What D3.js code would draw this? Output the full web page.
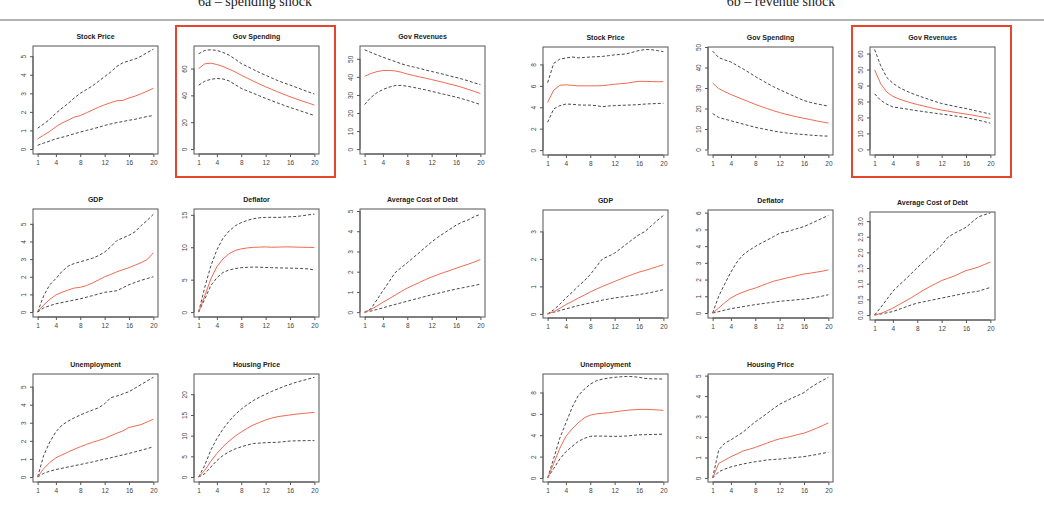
<!DOCTYPE html>
<html><head><meta charset="utf-8">
<script src="https://cdn.jsdelivr.net/npm/d3@7"></script>
<style>body{margin:0;background:#fff}svg{display:block}</style>
</head><body>
<svg id="c" width="1044" height="508"></svg>
<script>
// ---------- data ----------
const horizons = d3.range(1, 21);
const xTickLabels = [1, 4, 8, 12, 16, 20];
const groupTitles = ["6a \u2013 spending shock", "6b \u2013 revenue shock"];
const panelTitles = ["Stock Price","Gov Spending","Gov Revenues","GDP","Deflator","Average Cost of Debt","Unemployment","Housing Price"];

// 6a spending shock
const a_stock_lo  = [0.2,0.32,0.43,0.55,0.63,0.72,0.82,0.91,1.0,1.08,1.17,1.27,1.35,1.42,1.48,1.55,1.6,1.68,1.75,1.8];
const a_stock_mid = [0.54,0.75,0.95,1.2,1.4,1.55,1.72,1.8,1.95,2.1,2.25,2.38,2.5,2.6,2.62,2.75,2.85,2.98,3.12,3.27];
const a_stock_hi  = [1.12,1.35,1.6,1.93,2.2,2.45,2.75,3.0,3.2,3.4,3.65,3.9,4.15,4.45,4.65,4.75,4.85,5.0,5.2,5.38];
const a_gsp_lo  = [47.6,50.5,52,52.6,52.2,50.8,48,45.2,43.3,41.5,39.6,37.8,36,34.3,32.6,31,29.5,28,26.5,25];
const a_gsp_mid = [60,63.5,64,63,61.5,59.5,57.5,55,52.8,50.6,48.4,46.4,44.5,42.6,40.8,39,37.4,35.8,34.3,32.8];
const a_gsp_hi  = [71,73.5,74,73.5,72,70,67,63.7,61.5,59.2,57,55,53,51,49.3,47.7,46,44.3,42.6,41];
const a_grev_lo  = [24.7,28.5,31.2,33,34.3,35.2,35.3,34.8,34.2,33.5,32.8,32,31.2,30.4,29.6,28.8,27.9,26.9,25.8,24.7];
const a_grev_mid = [40.3,41.8,42.9,43.5,43.6,43.3,42.6,41.6,40.8,40,39.3,38.5,37.7,36.9,36,35.2,34.2,33.1,32,30.8];
const a_grev_hi  = [55,53.6,52.2,50.9,49.7,48.5,47.3,46.3,45.5,44.7,43.8,43,42.2,41.4,40.5,39.7,38.8,37.8,36.7,35.7];
const a_gdp_lo  = [0,0.24,0.36,0.47,0.54,0.61,0.68,0.75,0.84,0.93,1.02,1.12,1.16,1.21,1.38,1.55,1.68,1.8,1.9,2.0];
const a_gdp_mid = [0.04,0.4,0.72,0.97,1.12,1.25,1.36,1.4,1.5,1.65,1.82,2.0,2.13,2.28,2.4,2.52,2.66,2.8,2.98,3.36];
const a_gdp_hi  = [0,0.93,1.55,1.9,2.3,2.6,2.75,2.85,2.95,3.05,3.2,3.4,3.7,4.05,4.2,4.35,4.55,4.9,5.2,5.54];
const a_defl_lo  = [0,2.0,4.1,5.3,6.1,6.5,6.7,6.85,6.9,6.95,6.92,6.88,6.85,6.82,6.8,6.78,6.75,6.72,6.65,6.5];
const a_defl_mid = [0,2.5,5.1,7.0,8.2,9.0,9.5,9.75,9.9,9.98,10.02,10.05,10.0,10.02,10.05,10.05,10.02,10.0,9.98,9.97];
const a_defl_hi  = [0,3.8,7.1,9.6,11.4,12.5,13.3,13.8,14.15,14.4,14.55,14.6,14.62,14.6,14.65,14.7,14.75,14.85,15.0,15.1];
const a_debt_lo  = [0,0.05,0.13,0.21,0.3,0.38,0.46,0.54,0.62,0.7,0.78,0.86,0.93,1.0,1.07,1.14,1.2,1.26,1.32,1.38];
const a_debt_mid = [0,0.12,0.3,0.49,0.66,0.84,1.02,1.19,1.33,1.47,1.61,1.74,1.85,1.96,2.06,2.17,2.27,2.37,2.48,2.6];
const a_debt_hi  = [0,0.16,0.6,1.06,1.5,1.95,2.2,2.44,2.7,2.95,3.22,3.47,3.7,3.9,4.1,4.3,4.45,4.56,4.72,4.84];
const a_unemp_lo  = [0,0.2,0.32,0.41,0.48,0.55,0.62,0.69,0.76,0.83,0.91,0.98,1.06,1.14,1.22,1.3,1.39,1.48,1.57,1.67];
const a_unemp_mid = [0,0.46,0.8,1.06,1.22,1.38,1.53,1.67,1.8,1.92,2.02,2.13,2.28,2.42,2.55,2.74,2.82,2.9,3.05,3.2];
const a_unemp_hi  = [0,1.2,1.94,2.5,2.87,3.09,3.27,3.43,3.57,3.7,3.83,4.05,4.39,4.48,4.6,4.72,4.92,5.12,5.32,5.52];
const a_house_lo  = [0,0.8,2.4,4.0,5.2,6.1,6.8,7.3,7.75,8.1,8.2,8.3,8.35,8.4,8.55,8.7,8.75,8.78,8.8,8.8];
const a_house_mid = [0,1.6,3.8,5.7,7.3,8.7,9.9,10.9,11.8,12.6,13.2,13.8,14.25,14.6,14.8,15.0,15.2,15.35,15.5,15.6];
const a_house_hi  = [0,2.8,6.5,9.3,11.6,13.5,15.1,16.4,17.5,18.5,19.3,20,20.7,21.3,21.9,22.4,22.9,23.3,23.7,24.1];

// 6b revenue shock
const b_stock_lo  = [2.6,3.85,4.15,4.3,4.28,4.22,4.2,4.2,4.15,4.05,4.12,4.15,4.18,4.2,4.22,4.25,4.3,4.33,4.35,4.37];
const b_stock_mid = [4.46,5.6,6.05,6.1,6.05,6.0,6.0,6.0,6.0,6.02,6.08,6.15,6.2,6.25,6.35,6.42,6.42,6.4,6.38,6.4];
const b_stock_hi  = [6.3,8.1,8.5,8.6,8.7,8.62,8.65,8.7,8.72,8.75,8.82,8.9,8.93,9.0,9.15,9.3,9.4,9.38,9.3,9.2];
const b_gsp_lo  = [17.5,15.6,14.8,14,13.2,12.4,11.6,10.8,10.2,9.6,9,8.5,8.1,7.8,7.5,7.3,7.0,6.8,6.6,6.5];
const b_gsp_mid = [32.4,29.7,28.2,26.8,25.6,24.4,23.2,22,20.9,19.9,18.9,18,17.2,16.5,15.8,15.2,14.6,14,13.4,12.9];
const b_gsp_hi  = [48,44.8,43.7,42.7,41,39.3,37.5,35.6,33.9,32.2,30.6,29.2,27.8,26.5,25.1,23.9,23,22.3,21.7,21.2];
const b_grev_lo  = [34.8,30.7,28.3,26.6,26,25.4,24.8,24.2,23.7,23.1,22.6,22.1,21.6,21,20.5,19.9,19.1,18.3,17.4,16.4];
const b_grev_mid = [49.8,41,35.9,33.2,31.6,30.3,29.1,28.1,27.2,26.3,25.4,24.6,24,23.3,22.7,22.1,21.5,20.8,20.1,19.5];
const b_grev_hi  = [62.5,52.3,45,41.4,38.8,36.9,35.2,33.8,32.5,31.2,29.9,28.7,27.9,27.1,26.3,25.6,24.7,23.8,23,22.1];
const b_gdp_lo  = [0,0.06,0.12,0.18,0.24,0.3,0.35,0.4,0.45,0.5,0.54,0.58,0.61,0.64,0.67,0.7,0.74,0.78,0.83,0.88];
const b_gdp_mid = [0,0.08,0.2,0.34,0.45,0.57,0.68,0.8,0.9,1.0,1.09,1.18,1.27,1.36,1.44,1.52,1.58,1.65,1.72,1.79];
const b_gdp_hi  = [0,0.15,0.35,0.58,0.78,1.0,1.2,1.43,1.72,2.0,2.1,2.21,2.38,2.55,2.72,2.88,3.0,3.2,3.4,3.58];
const b_defl_lo  = [0,0.08,0.17,0.26,0.32,0.38,0.44,0.5,0.55,0.6,0.65,0.7,0.73,0.76,0.8,0.83,0.88,0.94,1.01,1.09];
const b_defl_mid = [0,0.3,0.62,0.9,1.1,1.25,1.38,1.49,1.63,1.77,1.9,1.99,2.08,2.16,2.25,2.33,2.38,2.44,2.5,2.58];
const b_defl_hi  = [0,1.0,1.75,2.45,3.05,3.48,3.75,3.98,4.18,4.37,4.57,4.77,4.85,4.95,5.06,5.17,5.33,5.5,5.67,5.83];
const b_debt_lo  = [0,0.03,0.07,0.11,0.18,0.25,0.32,0.38,0.42,0.46,0.5,0.54,0.58,0.62,0.66,0.7,0.73,0.76,0.82,0.88];
const b_debt_mid = [0,0.05,0.13,0.22,0.33,0.44,0.55,0.67,0.79,0.9,1.0,1.1,1.17,1.24,1.33,1.42,1.47,1.53,1.61,1.69];
const b_debt_hi  = [0,0.24,0.5,0.76,0.95,1.13,1.32,1.51,1.7,1.88,2.05,2.23,2.48,2.6,2.7,2.8,2.97,3.13,3.2,3.26];
const b_unemp_lo  = [0,0.88,1.77,2.46,2.94,3.41,3.7,3.89,3.92,3.92,3.9,3.89,3.9,3.93,3.98,4.04,4.05,4.07,4.08,4.1];
const b_unemp_mid = [0,1.36,2.78,3.89,4.58,5.15,5.62,5.88,6.0,6.05,6.1,6.19,6.26,6.33,6.38,6.41,6.42,6.4,6.37,6.32];
const b_unemp_hi  = [0,1.83,3.73,5.15,6.57,7.68,8.3,8.78,9.1,9.25,9.35,9.42,9.47,9.5,9.48,9.42,9.32,9.28,9.27,9.26];
const b_house_lo  = [0,0.3,0.43,0.54,0.61,0.68,0.74,0.79,0.83,0.88,0.9,0.92,0.95,0.98,1.01,1.04,1.09,1.14,1.2,1.25];
const b_house_mid = [0,0.71,0.87,1.04,1.17,1.32,1.4,1.49,1.6,1.71,1.82,1.91,1.97,2.04,2.12,2.19,2.3,2.42,2.55,2.69];
const b_house_hi  = [0,1.37,1.7,1.86,2.05,2.24,2.5,2.74,2.95,3.17,3.39,3.6,3.75,3.9,4.03,4.17,4.4,4.59,4.76,4.92];

// y-axis tick labels per panel
const ticks0to5 = [0,1,2,3,4,5];
const ticksGovA = [0,20,40,60];
const ticks0to50 = [0,10,20,30,40,50];
const ticks0to60 = [0,10,20,30,40,50,60];
const ticksEven = [0,2,4,6,8];
const ticksDeflA = [0,5,10,15];
const ticksHouseA = [0,5,10,15,20];
const ticks0to3 = [0,1,2,3];
const ticks0to6 = [0,1,2,3,4,5,6];
const ticksHalf = [0,0.5,1,1.5,2,2.5,3];

// ---------- panels (built from arrays above) ----------
const panels = [
 {g:0,col:0,row:0,t:panelTitles[0],lo:a_stock_lo,mid:a_stock_mid,hi:a_stock_hi,yd:[-0.27,5.55],yt:ticks0to5},
 {g:0,col:1,row:0,t:panelTitles[1],lo:a_gsp_lo,mid:a_gsp_mid,hi:a_gsp_hi,yd:[-3.7,76.8],yt:ticksGovA,box:true},
 {g:0,col:2,row:0,t:panelTitles[2],lo:a_grev_lo,mid:a_grev_mid,hi:a_grev_hi,yd:[-2.7,57.1],yt:ticks0to50},
 {g:0,col:0,row:1,t:panelTitles[3],lo:a_gdp_lo,mid:a_gdp_mid,hi:a_gdp_hi,yd:[-0.28,5.84],yt:ticks0to5},
 {g:0,col:1,row:1,t:panelTitles[4],lo:a_defl_lo,mid:a_defl_mid,hi:a_defl_hi,yd:[-0.76,15.9],yt:ticksDeflA},
 {g:0,col:2,row:1,t:panelTitles[5],lo:a_debt_lo,mid:a_debt_mid,hi:a_debt_hi,yd:[-0.24,5.1],yt:ticks0to5},
 {g:0,col:0,row:2,t:panelTitles[6],lo:a_unemp_lo,mid:a_unemp_mid,hi:a_unemp_hi,yd:[-0.28,5.7],yt:ticks0to5},
 {g:0,col:1,row:2,t:panelTitles[7],lo:a_house_lo,mid:a_house_mid,hi:a_house_hi,yd:[-1.2,24.9],yt:ticksHouseA},
 {g:1,col:0,row:0,t:panelTitles[0],lo:b_stock_lo,mid:b_stock_mid,hi:b_stock_hi,yd:[-0.46,9.63],yt:ticksEven},
 {g:1,col:1,row:0,t:panelTitles[1],lo:b_gsp_lo,mid:b_gsp_mid,hi:b_gsp_hi,yd:[-2.7,50],yt:ticks0to50},
 {g:1,col:2,row:0,t:panelTitles[2],lo:b_grev_lo,mid:b_grev_mid,hi:b_grev_hi,yd:[-3.5,64.1],yt:ticks0to60,box:true},
 {g:1,col:0,row:1,t:panelTitles[3],lo:b_gdp_lo,mid:b_gdp_mid,hi:b_gdp_hi,yd:[-0.15,3.78],yt:ticks0to3},
 {g:1,col:1,row:1,t:panelTitles[4],lo:b_defl_lo,mid:b_defl_mid,hi:b_defl_hi,yd:[-0.3,6.16],yt:ticks0to6},
 {g:1,col:2,row:1,t:panelTitles[5],lo:b_debt_lo,mid:b_debt_mid,hi:b_debt_hi,yd:[-0.16,3.29],yt:ticksHalf,dec:true},
 {g:1,col:0,row:2,t:panelTitles[6],lo:b_unemp_lo,mid:b_unemp_mid,hi:b_unemp_hi,yd:[-0.38,9.73],yt:ticksEven},
 {g:1,col:1,row:2,t:panelTitles[7],lo:b_house_lo,mid:b_house_mid,hi:b_house_hi,yd:[-0.2,5.08],yt:ticks0to5}
];

// ---------- layout ----------
const colX = [[33,194,360],[543,708,870]];
const rowY = [46,209,374];
const PW = 125, PH = 108;

const svg = d3.select("#c");

// header
const headerCx = [255, 781];
groupTitles.forEach((s,i)=>{
  svg.append("text").attr("x",headerCx[i]).attr("y",6)
    .attr("text-anchor","middle").attr("font-family","Liberation Serif, Times New Roman, serif")
    .attr("font-size",14).attr("fill","#222").text(s);
});
svg.append("line").attr("x1",0).attr("x2",1044).attr("y1",20).attr("y2",20)
  .attr("stroke","#9a9a9a").attr("stroke-width",1.5);

const fontSans = "Liberation Sans, Arial, sans-serif";

panels.forEach(p=>{
  const x0 = colX[p.g][p.col], y0 = rowY[p.row] + (p.g===1 && p.row===0 ? 1 : 0) + (p.g===1 && p.row===1 && p.col===2 ? 3 : (p.g===1 && p.row===1 ? 1 : 0));
  const xs = d3.scaleLinear().domain([0.24,20.76]).range([x0, x0+PW]);
  const ys = d3.scaleLinear().domain(p.yd).range([y0+PH, y0]);
  const g = svg.append("g");

  if (p.box) {
    g.append("rect").attr("x",x0-18).attr("y",26).attr("width",PW+34).attr("height",151)
      .attr("fill","none").attr("stroke","#e5452d").attr("stroke-width",2);
  }

  // title
  g.append("text").attr("x",x0+PW/2).attr("y",y0-7).attr("text-anchor","middle")
    .attr("font-family",fontSans).attr("font-weight","bold").attr("font-size",7)
    .attr("fill","#222").text(p.t);

  // axes
  const xAxis = d3.axisBottom(xs).tickValues(xTickLabels).tickSize(3).tickPadding(3);
  const gx = g.append("g").attr("transform",`translate(0,${y0+PH})`).call(xAxis);
  gx.select(".domain").attr("d",`M${xs(1)},0H${xs(20)}`).attr("stroke","#555");
  gx.selectAll(".tick line").attr("stroke","#555");
  gx.selectAll("text").attr("font-family",fontSans).attr("font-size",6.5).attr("fill","#444");

  const fmt = p.dec ? d3.format(".1f") : d3.format("d");
  const yAxis = d3.axisLeft(ys).tickValues(p.yt).tickFormat(fmt).tickSize(3).tickPadding(3);
  const gy = g.append("g").attr("transform",`translate(${x0},0)`).call(yAxis);
  gy.select(".domain").attr("d",`M0,${ys(p.yt[0])}V${ys(p.yt[p.yt.length-1])}`).attr("stroke","#555");
  gy.selectAll(".tick line").attr("stroke","#555");
  gy.selectAll(".tick text")
    .attr("x",null).attr("dy",null)
    .attr("transform","translate(-7,0) rotate(-90)")
    .attr("text-anchor","middle").attr("font-family",fontSans).attr("font-size",6.5).attr("fill","#444");

  // frame
  g.append("rect").attr("x",x0).attr("y",y0).attr("width",PW).attr("height",PH)
    .attr("fill","none").attr("stroke","#555").attr("stroke-width",1);

  const line = d3.line().x((d,i)=>xs(horizons[i])).y(d=>ys(d));
  g.append("path").attr("d",line(p.hi)).attr("fill","none").attr("stroke","#333")
    .attr("stroke-width",0.9).attr("stroke-dasharray","3,2");
  g.append("path").attr("d",line(p.lo)).attr("fill","none").attr("stroke","#333")
    .attr("stroke-width",0.9).attr("stroke-dasharray","3,2");
  g.append("path").attr("d",line(p.mid)).attr("fill","none").attr("stroke","#f06a52")
    .attr("stroke-width",1);
});
</script>
</body></html>
